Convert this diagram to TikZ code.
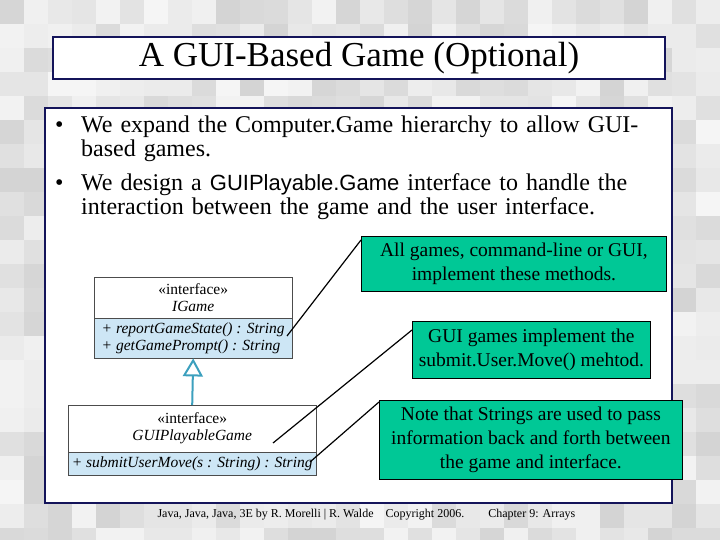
\documentclass[tikz,border=0pt]{standalone}
\usepackage{fontspec}
\setmainfont{Liberation Serif}
\newfontfamily\uisans{Liberation Sans}
\usetikzlibrary{arrows.meta}
\definecolor{navy}{RGB}{20,20,90}
\definecolor{notegreen}{RGB}{0,200,150}
\definecolor{umlblue}{RGB}{205,230,245}
\definecolor{umlarrow}{RGB}{60,160,190}
\tikzset{
  note/.style={draw, thick, fill=notegreen, align=center, font=\fontsize{19.5}{24}\selectfont, inner sep=2pt},
  umlbox/.style={draw=black!70, fill=white, align=center, font=\fontsize{15.5}{17}\selectfont, inner sep=1pt},
  umlops/.style={draw=black!70, fill=umlblue, align=left, font=\fontsize{15.5}{17}\selectfont\itshape, inner sep=1pt},
  pointer/.style={very thick}
}
\begin{document}
\begin{tikzpicture}[x=1pt,y=-1pt]
  \useasboundingbox (0,0) rectangle (720,540);
  \fill[black!8] (0,0) rectangle (720,540);
  % mosaic background
  \pgfmathsetseed{7}
  \foreach \i in {0,...,29}
    \foreach \j in {0,...,22}
      {
        \pgfmathsetmacro{\shade}{int(4+14*rnd)}
        \fill[black!\shade!white] (\i*24,\j*24) rectangle ++(24,24);
      }

  % title
  \node (title) [draw=navy, very thick, fill=white, minimum width=612, minimum height=42,
    font=\fontsize{35}{38}\selectfont] at (359,58) {A GUI-Based Game (Optional)};

  % content panel
  \fill[white, draw=navy, very thick] (45,108) rectangle (672,503);
  \node (bullets) [anchor=north west, align=left, text width=620, inner sep=0pt,
    font=\fontsize{24}{24}\selectfont] at (55,116) {%
    \makebox[26pt][l]{•}We expand the Computer.Game hierarchy to allow GUI-\\
    \hspace*{26pt}based games.\\[10pt]
    \makebox[26pt][l]{•}We design a {\uisans\fontsize{22}{24}\selectfont GUIPlayable.Game} interface to handle the\\
    \hspace*{26pt}interaction between the game and the user interface.};

  % uml
  \node (igame) [umlbox, minimum width=198, minimum height=41, anchor=north west] at (94,277)
    {«interface»\\\textit{IGame}};
  \node (igameops) [umlops, minimum width=198, minimum height=40, anchor=north west] at (94,318)
    {+ reportGameState() : String\\+ getGamePrompt() : String};
  \node (guigame) [umlbox, minimum width=248, minimum height=47, anchor=north west] at (68,405)
    {«interface»\\\textit{GUIPlayableGame}};
  \node (guiops) [umlops, minimum width=248, minimum height=23, anchor=north west] at (68,452)
    {+ submitUserMove(s : String) : String};
  \draw[umlarrow, line width=2pt, -{Triangle[open, width=20pt, length=18pt]}] (guigame.north) -- (igameops.south);

  % notes
  \node (allnote) [note, minimum width=305, minimum height=55, anchor=north west] at (361,236)
    {All games, command-line or GUI,\\implement these methods.};
  \node (guinote) [note, minimum width=238, minimum height=57, anchor=north west] at (412,321)
    {GUI games implement the\\submit.User.Move() mehtod.};
  \node (strnote) [note, minimum width=303, minimum height=79, anchor=north west] at (379,400)
    {Note that Strings are used to pass\\information back and forth between\\the game and interface.};
  \draw[pointer] (allnote.north west) ++(0,4) coordinate (p1) -- (287,336);
  \draw[pointer] (guinote.north west) ++(0,9) coordinate (p2) -- (273,443);
  \draw[pointer] (strnote.north west) ++(0,2) coordinate (p3) -- (310,462);

  % footer
  \node (footer) [font=\fontsize{12}{14}\selectfont, anchor=west] at (154,515)
    {Java, Java, Java, 3E by R. Morelli | R. Walde\quad Copyright 2006.\qquad Chapter 9: Arrays};
\end{tikzpicture}
\end{document}
